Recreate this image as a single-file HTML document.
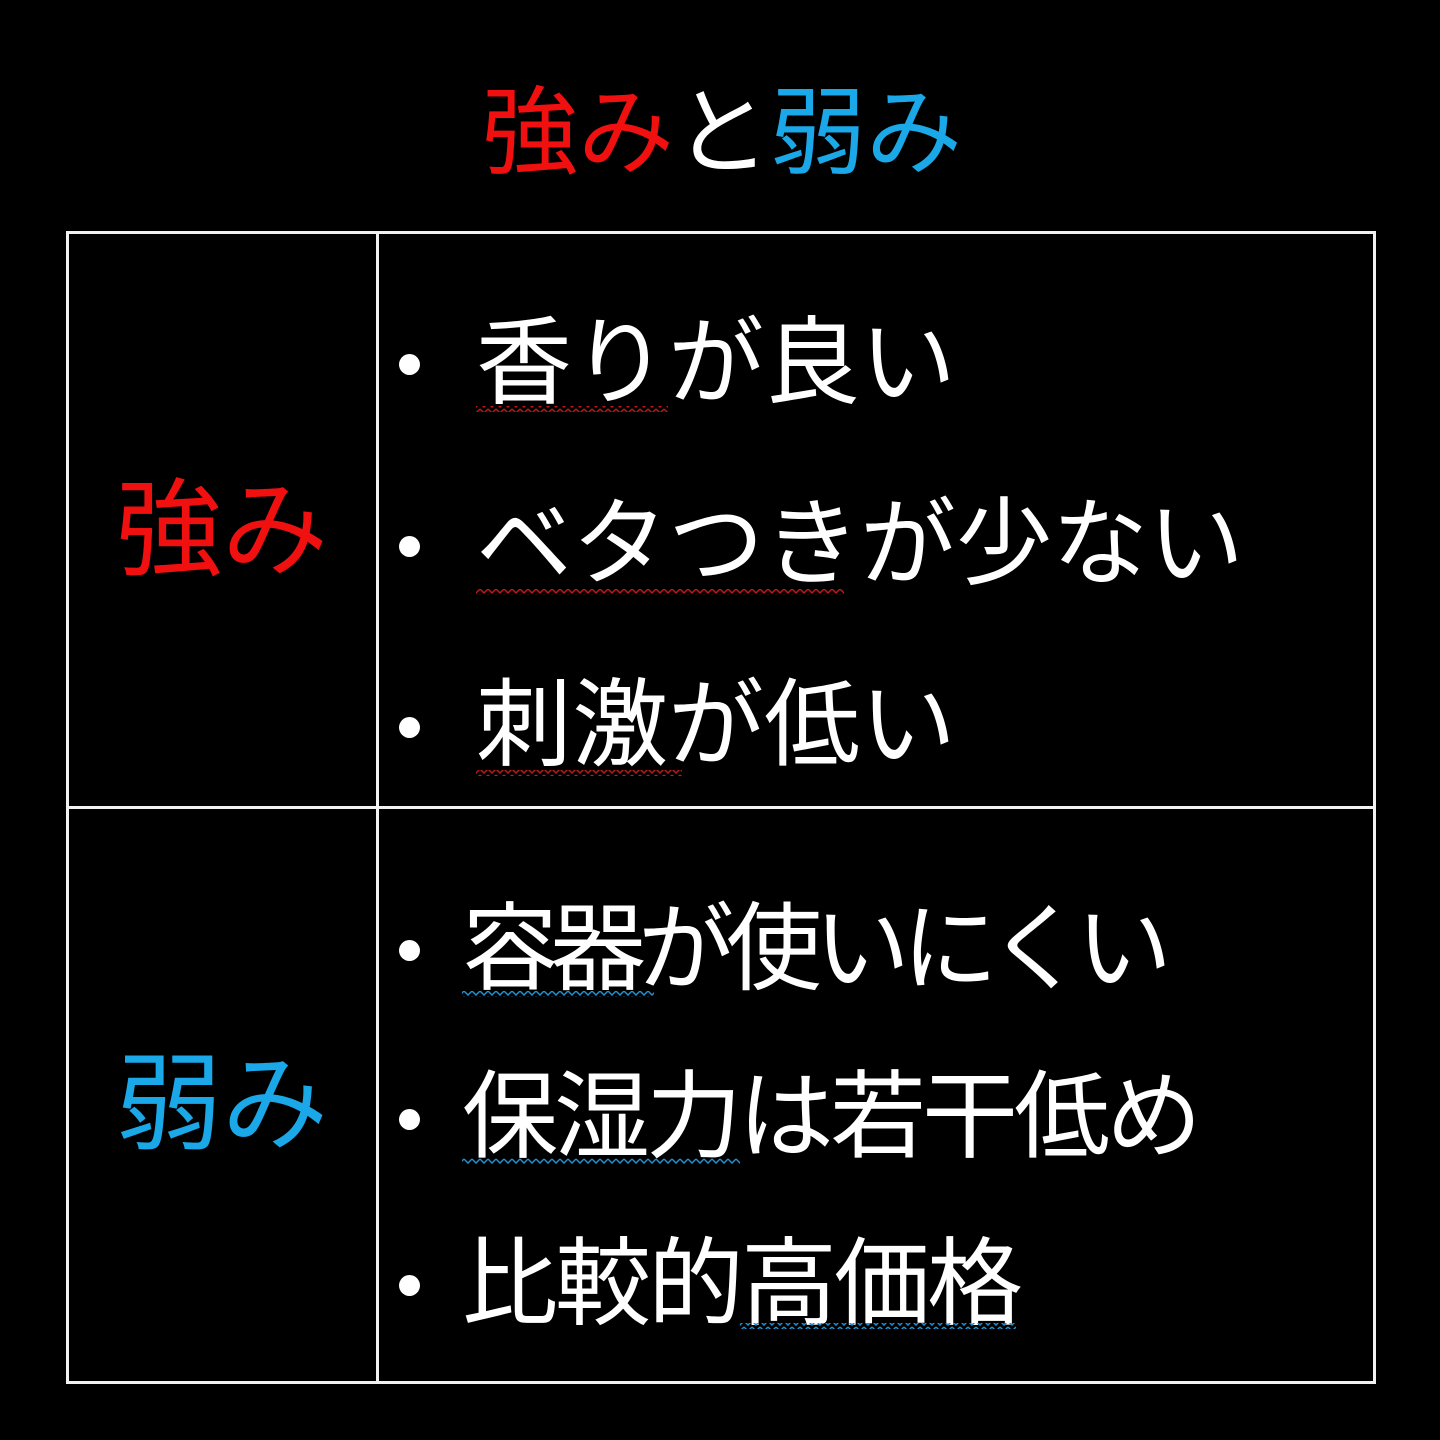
<!DOCTYPE html>
<html><head><meta charset="utf-8"><style>
body{margin:0;width:1440px;height:1440px;background:#000;position:relative;overflow:hidden;font-family:"Liberation Sans","Noto Sans CJK JP",sans-serif;color:#fff}
.t{position:absolute;white-space:nowrap;line-height:1}
.ln{position:absolute;background:#f2f2f2}
.dot{position:absolute;width:21px;height:21px;border-radius:50%;background:#fff}
</style></head><body>
<div class="t" style="left:482px;top:86px;font-size:96px;letter-spacing:0px"><span style="color:#f01010">強み</span><span>と</span><span style="color:#1aa8e8">弱み</span></div>

<div class="ln" style="left:66px;top:231px;width:1310px;height:3px"></div>
<div class="ln" style="left:66px;top:1381px;width:1310px;height:3px"></div>
<div class="ln" style="left:66px;top:231px;width:3px;height:1153px"></div>
<div class="ln" style="left:1373px;top:231px;width:3px;height:1153px"></div>
<div class="ln" style="left:376px;top:231px;width:3px;height:1153px"></div>
<div class="ln" style="left:66px;top:806px;width:1310px;height:3px"></div>

<div class="t" style="left:116px;top:478px;font-size:106px;color:#f01010">強み</div>
<div class="t" style="left:116px;top:1052px;font-size:106px;color:#1aa8e8">弱み</div>

<div class="dot" style="left:399px;top:354px"></div>
<div class="dot" style="left:399px;top:536px"></div>
<div class="dot" style="left:399px;top:717px"></div>
<div class="dot" style="left:399px;top:940px"></div>
<div class="dot" style="left:399px;top:1109px"></div>
<div class="dot" style="left:399px;top:1275px"></div>

<div class="t" style="left:476px;top:316px;font-size:96px">香りが良い</div>
<div class="t" style="left:476px;top:497px;font-size:96px">ベタつきが少ない</div>
<div class="t" style="left:476px;top:678px;font-size:96px">刺激が低い</div>
<div class="t" style="left:462px;top:902px;font-size:96px;letter-spacing:-8px">容器が使いにくい</div>
<div class="t" style="left:462px;top:1070px;font-size:96px;letter-spacing:-4px">保湿力は若干低め</div>
<div class="t" style="left:462px;top:1237px;font-size:96px;letter-spacing:-3px">比較的高価格</div>

<svg width="1440" height="1440" style="position:absolute;left:0;top:0" fill="none" stroke-width="1.5">
<defs>
<pattern id="wr" width="8" height="6" patternUnits="userSpaceOnUse"><path d="M0 1 L4 5 L8 1" stroke="#c01818"/></pattern>
<pattern id="wb" width="8" height="6" patternUnits="userSpaceOnUse"><path d="M0 1 L4 5 L8 1" stroke="#2090d0"/></pattern>
</defs>
<rect x="476" y="406" width="192" height="6" fill="url(#wr)"/>
<rect x="476" y="589" width="368" height="6" fill="url(#wr)"/>
<rect x="476" y="770" width="206" height="6" fill="url(#wr)"/>
<rect x="462" y="991" width="192" height="6" fill="url(#wb)"/>
<rect x="462" y="1158" width="278" height="6" fill="url(#wb)"/>
<rect x="740" y="1323" width="276" height="6" fill="url(#wb)"/>
</svg>
</body></html>
